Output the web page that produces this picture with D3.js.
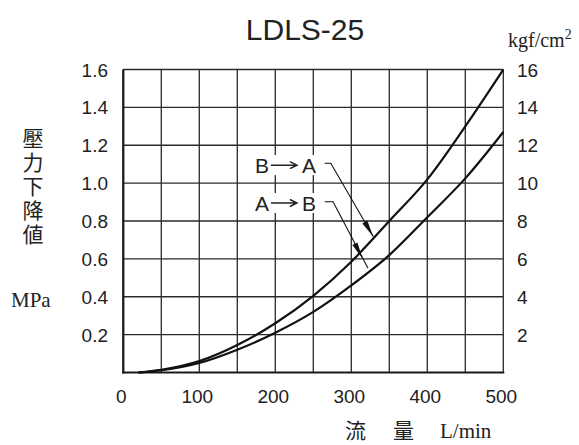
<!DOCTYPE html>
<html>
<head>
<meta charset="utf-8">
<script src="https://cdn.jsdelivr.net/npm/d3@7/dist/d3.min.js"></script>
<style>
  body { margin: 0; background: #fff; }
  svg { display: block; }
  .num { font-family: "Liberation Sans", Arial, sans-serif; font-size: 19px; fill: #222; }
  .serif { font-family: "Liberation Serif", "Times New Roman", serif; fill: #222; }
  .cjk { font-family: "Noto Sans CJK JP", "Noto Sans CJK TC", sans-serif; fill: #222; }
</style>
</head>
<body>
<svg id="chart" width="579" height="445"></svg>
<script>
// flow (L/min) vs pressure drop (MPa)
const flow = [20, 50, 100, 150, 200, 250, 300, 350, 400, 450, 500]
const dropBA = [0, 0.014, 0.06, 0.145, 0.26, 0.405, 0.585, 0.80, 1.02, 1.30, 1.60]
const dropAB = [0, 0.012, 0.05, 0.12, 0.21, 0.32, 0.46, 0.62, 0.82, 1.025, 1.27]

const xTicks = [0, 100, 200, 300, 400, 500]
const xGrid = d3.range(0, 501, 50)
const yTicks = [0.2, 0.4, 0.6, 0.8, 1.0, 1.2, 1.4, 1.6]
const kgfTicks = [2, 4, 6, 8, 10, 12, 14, 16]

// annotation labels: [from, to, flow, MPa]; leaders: [start, bend, arrow tip, end] in (flow, MPa)
const labels = [['B', 'A', 214, 1.095], ['A', 'B', 214, 0.895]]
const leaders = [
	[[265, 1.105], [273, 1.105], [329, 0.717], [329, 0.717]],
	[[265, 0.902], [276, 0.902], [315, 0.6], [322, 0.55]]
]

const svg = d3.select('#chart')

const x = d3.scaleLinear().domain([0, 500]).range([123.3, 503.3])
const y = d3.scaleLinear().domain([0, 1.6]).range([372.5, 69.5])
const yk = d3.scaleLinear().domain([0, 16]).range([372.5, 69.5])

// title
svg.append('text')
	.attr('x', 305).attr('y', 40)
	.attr('text-anchor', 'middle')
	.attr('class', 'num')
	.style('font-size', '30px')
	.text('LDLS-25')

// grid
const grid = svg.append('g').attr('stroke', '#2a2a2a').attr('stroke-width', 1.3)
grid.selectAll('.vg').data(xGrid).enter().append('line')
	.attr('x1', d => x(d)).attr('x2', d => x(d))
	.attr('y1', y(0)).attr('y2', y(1.6))
grid.selectAll('.hg').data(yTicks).enter().append('line')
	.attr('x1', x(0)).attr('x2', x(500))
	.attr('y1', d => y(d)).attr('y2', d => y(d))

// label knock-outs over the grid, letters with a drawn arrow between
const lab = svg.append('g')
labels.forEach(([a, b, fx, py]) => {
	const cx = x(fx), cy = y(py)
	lab.append('rect')
		.attr('x', cx - 33).attr('y', cy - 10)
		.attr('width', 66).attr('height', 20)
		.attr('fill', '#fff')
	lab.append('text').attr('class', 'num').style('font-size', '21px')
		.attr('x', cx - 24).attr('y', cy + 7.5).attr('text-anchor', 'middle').text(a)
	lab.append('text').attr('class', 'num').style('font-size', '21px')
		.attr('x', cx + 23).attr('y', cy + 7.5).attr('text-anchor', 'middle').text(b)
	lab.append('path')
		.attr('d', `M${cx - 15},${cy}H${cx + 11}M${cx + 4},${cy - 3.5}L${cx + 11},${cy}L${cx + 4},${cy + 3.5}`)
		.attr('fill', 'none').attr('stroke', '#222').attr('stroke-width', 1.5)
})

// axes frame
svg.append('line').attr('x1', x(0)).attr('x2', x(0)).attr('y1', y(0) + 1).attr('y2', y(1.6))
	.attr('stroke', '#1a1a1a').attr('stroke-width', 2.2)
svg.append('line').attr('x1', x(0) - 1).attr('x2', x(500) + 1).attr('y1', y(0)).attr('y2', y(0))
	.attr('stroke', '#1a1a1a').attr('stroke-width', 2.2)

// curves
const line = d3.line().x((d, i) => x(flow[i])).y(d => y(d)).curve(d3.curveMonotoneX)
svg.append('path').datum(dropBA).attr('d', line)
	.attr('fill', 'none').attr('stroke', '#111').attr('stroke-width', 2.2)
svg.append('path').datum(dropAB).attr('d', line)
	.attr('fill', 'none').attr('stroke', '#111').attr('stroke-width', 2.2)

// leaders with arrowheads
leaders.forEach(([a, b, tip, end]) => {
	const pts = [a, b, end].map(p => [x(p[0]), y(p[1])])
	svg.append('path').attr('d', d3.line()(pts))
		.attr('fill', 'none').attr('stroke', '#111').attr('stroke-width', 1.1)
	const tx = x(tip[0]), ty = y(tip[1])
	const ang = Math.atan2(ty - y(b[1]), tx - x(b[0]))
	const len = 17, half = 2.8
	const bx = tx - len * Math.cos(ang), by = ty - len * Math.sin(ang)
	const nx = -Math.sin(ang) * half, ny = Math.cos(ang) * half
	svg.append('path')
		.attr('d', `M${tx},${ty}L${bx + nx},${by + ny}L${bx - nx},${by - ny}Z`)
		.attr('fill', '#111')
})

// tick labels
svg.selectAll('.yl').data(yTicks).enter().append('text')
	.attr('class', 'num').attr('x', 108).attr('y', d => y(d) + 7)
	.attr('text-anchor', 'end').text(d => d.toFixed(1))
svg.selectAll('.yr').data(kgfTicks).enter().append('text')
	.attr('class', 'num').attr('x', 517).attr('y', d => yk(d) + 7)
	.attr('text-anchor', 'start').text(d => d)
svg.selectAll('.xl').data(xTicks).enter().append('text')
	.attr('class', 'num').attr('x', d => x(d) - 2).attr('y', 403)
	.attr('text-anchor', 'middle').text(d => d)

// units
const kgf = svg.append('text').attr('class', 'serif').attr('x', 508).attr('y', 47).style('font-size', '20px')
kgf.append('tspan').text('kgf/cm')
kgf.append('tspan').attr('dy', -8).style('font-size', '14px').text('2')

svg.append('text').attr('class', 'serif').attr('x', 11).attr('y', 307)
	.style('font-size', '21px').text('MPa')

// vertical axis title, set in one column
svg.append('text')
	.attr('class', 'cjk')
	.attr('x', 33).attr('y', 128)
	.style('writing-mode', 'vertical-rl')
	.style('font-size', '21px')
	.style('letter-spacing', '3px')
	.text('壓力下降値')

const xt = svg.append('text').attr('y', 438)
xt.append('tspan').attr('class', 'cjk').attr('x', 345).style('font-size', '21px').text('流')
xt.append('tspan').attr('class', 'cjk').attr('x', 393).style('font-size', '21px').text('量')
xt.append('tspan').attr('class', 'serif').attr('x', 440).style('font-size', '21px').text('L/min')
</script>
</body>
</html>
